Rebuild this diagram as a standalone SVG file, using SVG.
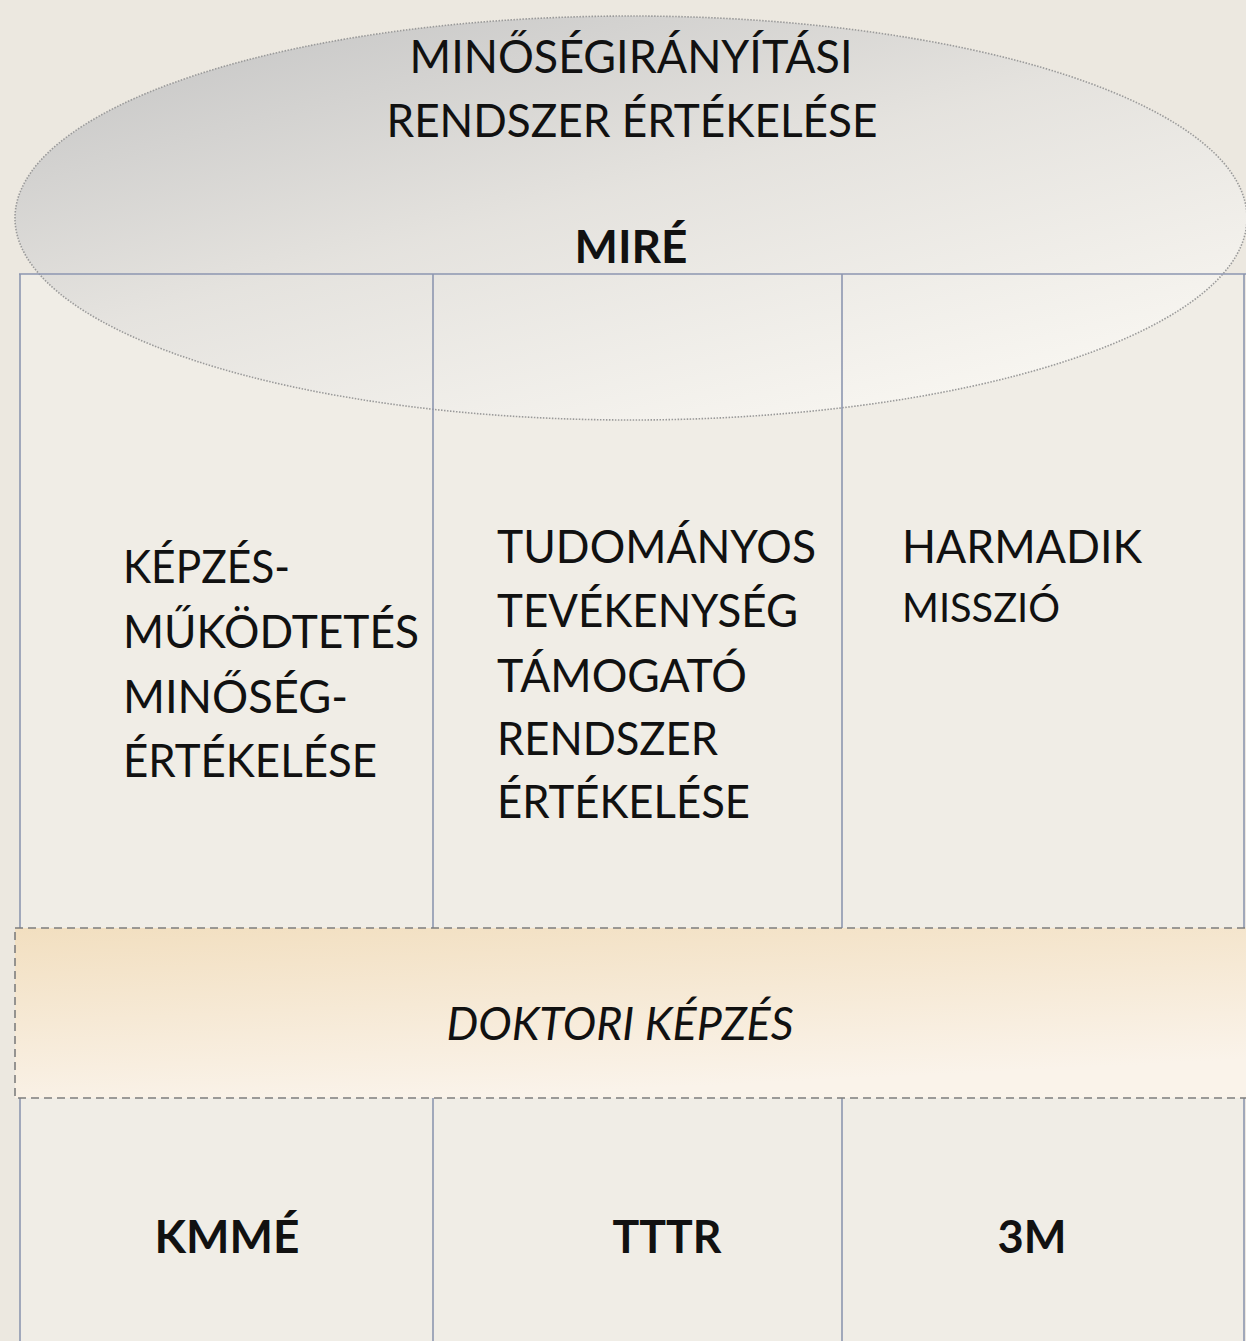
<svg xmlns="http://www.w3.org/2000/svg" width="1246" height="1341" viewBox="0 0 1246 1341">
<defs>
<linearGradient id="ellG" x1="0.15" y1="0.05" x2="0.85" y2="0.95">
<stop offset="0" stop-color="#c6c6c6"/>
<stop offset="0.45" stop-color="#e4e2de"/>
<stop offset="1" stop-color="#faf8f3"/>
</linearGradient>
<linearGradient id="bandG" x1="0" y1="0" x2="0.35" y2="1">
<stop offset="0" stop-color="#f2dfc0"/>
<stop offset="1" stop-color="#faf3ea"/>
</linearGradient>
<style>
.t{font-family:Lato,"Liberation Sans",sans-serif;font-size:46px;fill:#111;}
.b{font-weight:bold;}
.i{font-style:italic;}
.grid{stroke:#8d96b0;stroke-width:1.6;fill:none;}
.col{fill:#f0ede6;}
</style>
</defs>
<rect x="0" y="0" width="1246" height="1341" fill="#ece8e0"/>
<g id="columns">
<rect class="col" x="20" y="274" width="1224" height="1067"/>
</g>
<g id="ellipse">
<ellipse cx="631" cy="218" rx="616" ry="202" fill="url(#ellG)" fill-opacity="0.92" stroke="#9a9a9a" stroke-width="1.6" stroke-dasharray="1.5 1.5"/>
<text class="t" x="631" y="73" text-anchor="middle" textLength="443" lengthAdjust="spacingAndGlyphs">MINŐSÉGIRÁNYÍTÁSI</text>
<text class="t" x="632" y="137" text-anchor="middle" textLength="491" lengthAdjust="spacingAndGlyphs">RENDSZER ÉRTÉKELÉSE</text>
<text class="t b" x="631" y="263" text-anchor="middle" textLength="113" lengthAdjust="spacingAndGlyphs">MIRÉ</text>
</g>
<g id="connectors">
<line class="grid" x1="19" y1="274" x2="1246" y2="274"/>
<line class="grid" x1="20" y1="274" x2="20" y2="1341"/>
<line class="grid" x1="433" y1="274" x2="433" y2="1341"/>
<line class="grid" x1="842" y1="274" x2="842" y2="1341"/>
<line class="grid" x1="1244" y1="274" x2="1244" y2="1341"/>
</g>
<g id="col1">
<text class="t" x="123" y="583" textLength="167" lengthAdjust="spacingAndGlyphs">KÉPZÉS-</text>
<text class="t" x="123" y="648" textLength="296" lengthAdjust="spacingAndGlyphs">MŰKÖDTETÉS</text>
<text class="t" x="123" y="713" textLength="225" lengthAdjust="spacingAndGlyphs">MINŐSÉG-</text>
<text class="t" x="123" y="777" textLength="254" lengthAdjust="spacingAndGlyphs">ÉRTÉKELÉSE</text>
</g>
<g id="col2">
<text class="t" x="497" y="563" textLength="319" lengthAdjust="spacingAndGlyphs">TUDOMÁNYOS</text>
<text class="t" x="497" y="627" textLength="301" lengthAdjust="spacingAndGlyphs">TEVÉKENYSÉG</text>
<text class="t" x="497" y="692" textLength="250" lengthAdjust="spacingAndGlyphs">TÁMOGATÓ</text>
<text class="t" x="497" y="755" textLength="221" lengthAdjust="spacingAndGlyphs">RENDSZER</text>
<text class="t" x="497" y="818" textLength="253" lengthAdjust="spacingAndGlyphs">ÉRTÉKELÉSE</text>
</g>
<g id="col3">
<text class="t" x="902" y="563" textLength="240" lengthAdjust="spacingAndGlyphs">HARMADIK</text>
<text class="t" x="902" y="622" style="font-size:40px" textLength="158" lengthAdjust="spacingAndGlyphs">MISSZIÓ</text>
</g>
<g id="band">
<rect x="15" y="928" width="1240" height="170" fill="url(#bandG)" stroke="#7e7e7e" stroke-width="1.6" stroke-dasharray="8 5"/>
<text class="t i" x="620" y="1040" text-anchor="middle" textLength="347" lengthAdjust="spacingAndGlyphs">DOKTORI KÉPZÉS</text>
</g>
<g id="bottom1">
<text class="t b" x="227" y="1253" text-anchor="middle" textLength="145" lengthAdjust="spacingAndGlyphs">KMMÉ</text>
</g>
<g id="bottom2">
<text class="t b" x="667" y="1253" text-anchor="middle" textLength="109" lengthAdjust="spacingAndGlyphs">TTTR</text>
</g>
<g id="bottom3">
<text class="t b" x="1032" y="1253" text-anchor="middle" textLength="69" lengthAdjust="spacingAndGlyphs">3M</text>
</g>
</svg>
